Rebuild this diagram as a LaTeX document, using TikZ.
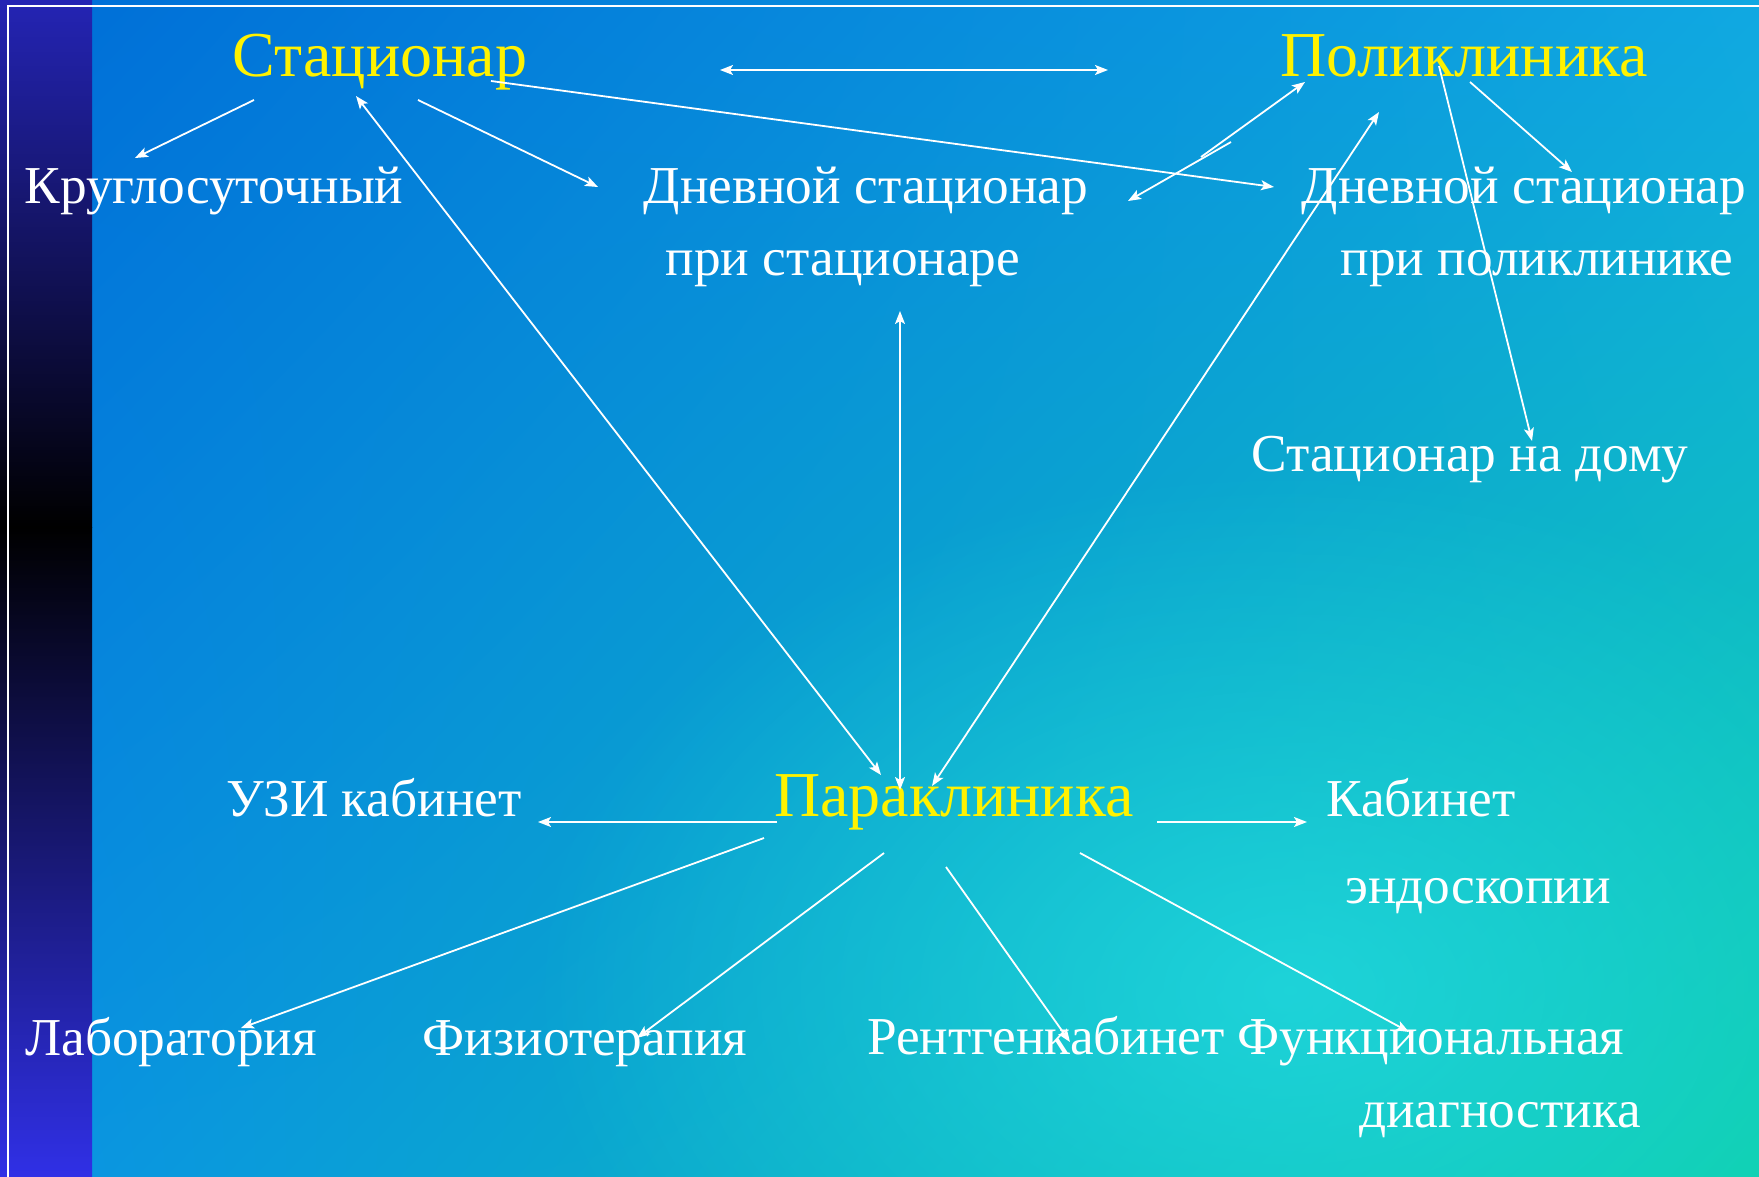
\documentclass[tikz,border=0pt]{standalone}
\usepackage{fontspec}
\setmainfont{Liberation Serif}
\usetikzlibrary{arrows.meta,fadings,shadings}
\definecolor{bgUL}{HTML}{0070D8}
\definecolor{bgUR}{HTML}{10A8E2}
\definecolor{bgLL}{HTML}{0A96E0}
\definecolor{bgLR}{HTML}{0CCFA8}
\definecolor{glow}{HTML}{24DCE2}
\definecolor{barTop}{HTML}{2424B4}
\definecolor{barBot}{HTML}{3030E6}
\tikzfading[name=glowfade, inner color=transparent!25, outer color=transparent!100]

\begin{document}
\begin{tikzpicture}[x=1pt,y=-1pt,
  yel/.style={text=yellow, font=\fontsize{64}{70}\selectfont, anchor=base, inner sep=0pt},
  wht/.style={text=white, font=\fontsize{53.3}{60}\selectfont, anchor=base, inner sep=0pt},
  tip/.tip={Stealth[length=13pt,width=10pt,inset=3pt]},
  arr/.style={white, line width=1.8pt, -tip},
  darr/.style={white, line width=1.8pt, tip-tip}]
	%%%%% START %%%%%
	\useasboundingbox (0,0) rectangle (1759,1177);
	
	\shade[upper left=bgUL, upper right=bgUR, lower left=bgLL, lower right=bgLR] (92,0) rectangle (1759,1177);
	\fill[glow, path fading=glowfade] (1290,990) ellipse (760 and 520);
	\shade[top color=barTop, bottom color=black] (0,0) rectangle (92,527);
	\shade[top color=black, bottom color=barBot] (0,527) rectangle (92,1177);
	\draw[white, line width=2pt] (8,1177) -- (8,6) -- (1759,6);
	
	\node[yel] (stac) at (380,77) {Стационар};
	\node[yel] (poli) at (1464,77) {Поликлиника};
	\node[yel] (para) at (954,816) {Параклиника};
	
	\node[wht] (krug) at (214,204) {Круглосуточный};
	\node[wht] (dsl1) at (866,204) {Дневной стационар};
	\node[wht] (dsl2) at (843,275) {при стационаре};
	\node[wht] (dsr1) at (1524,204) {Дневной стационар};
	\node[wht] (dsr2) at (1537,275) {при поликлинике};
	\node[wht] (dom) at (1470,471) {Стационар на дому};
	
	\node[wht] (uzi) at (374,816) {УЗИ кабинет};
	\node[wht] (kab) at (1421,816) {Кабинет};
	\node[wht] (endo) at (1478,903) {эндоскопии};
	\node[wht] (lab) at (171,1055) {Лаборатория};
	\node[wht] (fiz) at (585,1055) {Физиотерапия};
	\node[wht] (rent) at (1046,1054) {Рентгенкабинет};
	\node[wht] (func) at (1431,1054) {Функциональная};
	\node[wht] (diag) at (1500,1127) {диагностика};
	
	\coordinate (stac-a) at (254,100);
	\coordinate (stac-b) at (418,100);
	\coordinate (stac-c) at (491,81);
	\coordinate (stac-d) at (356,96);
	\coordinate (krug-a) at (135,158);
	\coordinate (dsl-a) at (598,187);
	\coordinate (dsl-b) at (1128,201);
	\coordinate (dsl-c) at (900,311);
	\coordinate (dsr-a) at (1274,187);
	\coordinate (dsr-b) at (1572,172);
	\coordinate (mid-l) at (720,70);
	\coordinate (mid-r) at (1108,70);
	\coordinate (poli-a) at (1231,142);
	\coordinate (poli-b) at (1201,157);
	\coordinate (poli-c) at (1305,82);
	\coordinate (poli-d) at (1379,112);
	\coordinate (poli-e) at (1470,82);
	\coordinate (poli-f) at (1439,66);
	\coordinate (dom-a) at (1532,441);
	
	\coordinate (para-a) at (881,775);
	\coordinate (para-b) at (900,790);
	\coordinate (para-c) at (932,786);
	\coordinate (para-l) at (777,822);
	\coordinate (para-r) at (1157,822);
	\coordinate (para-1) at (764,838);
	\coordinate (para-2) at (884,853);
	\coordinate (para-3) at (946,867);
	\coordinate (para-4) at (1080,853);
	\coordinate (uzi-a) at (538,822);
	\coordinate (kab-a) at (1307,822);
	\coordinate (lab-a) at (241,1028);
	\coordinate (fiz-a) at (637,1038);
	\coordinate (rent-a) at (1070,1042);
	\coordinate (func-a) at (1409,1032);
	
	\draw[arr] (stac-a) -- (krug-a);
	\draw[arr] (stac-b) -- (dsl-a);
	\draw[arr] (stac-c) -- (dsr-a);
	\draw[darr] (mid-l) -- (mid-r);
	\draw[arr] (poli-a) -- (dsl-b);
	\draw[arr] (poli-b) -- (poli-c);
	\draw[arr] (poli-e) -- (dsr-b);
	\draw[arr] (poli-f) -- (dom-a);
	
	\draw[darr] (stac-d) -- (para-a);
	\draw[darr] (dsl-c) -- (para-b);
	\draw[darr] (poli-d) -- (para-c);
	
	\draw[arr] (para-l) -- (uzi-a);
	\draw[arr] (para-r) -- (kab-a);
	\draw[arr] (para-1) -- (lab-a);
	\draw[arr] (para-2) -- (fiz-a);
	\draw[arr] (para-3) -- (rent-a);
	\draw[arr] (para-4) -- (func-a);
	
	%%%%% END %%%%%
\end{tikzpicture}
\end{document}
